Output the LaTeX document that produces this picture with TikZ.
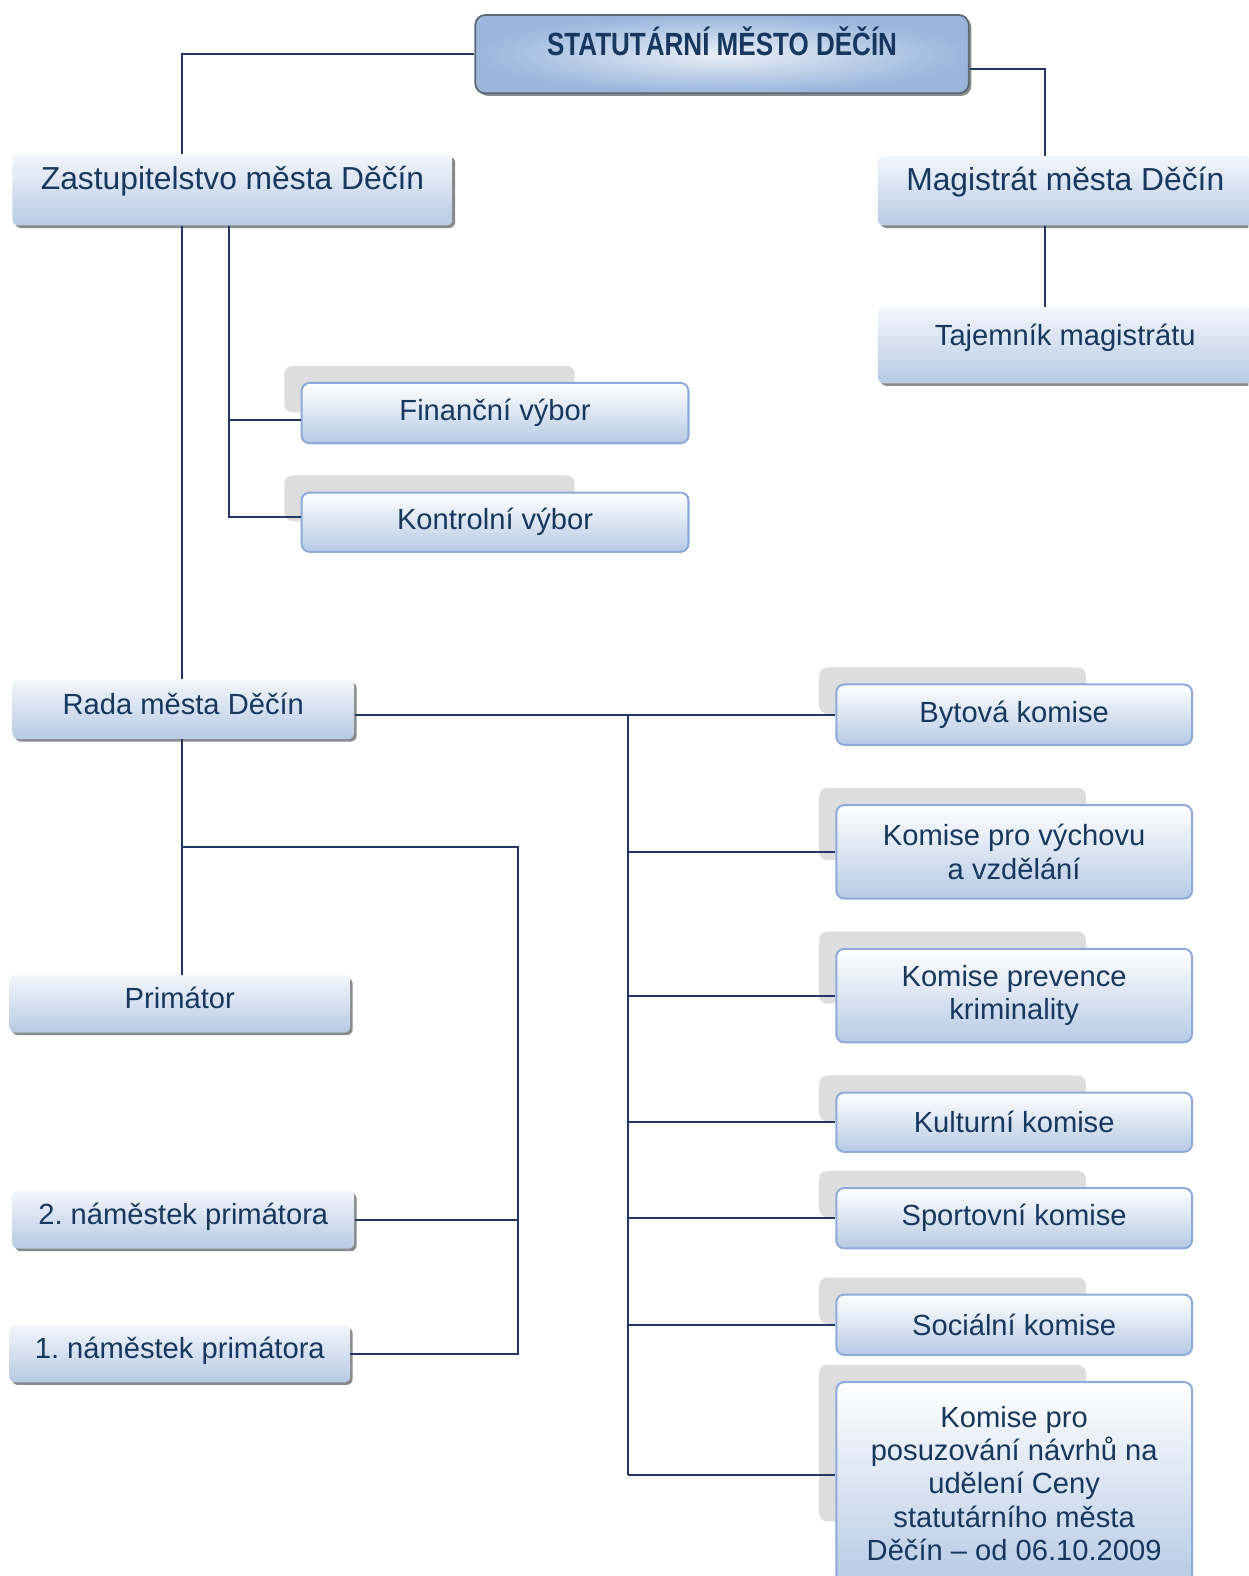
\documentclass[tikz,border=0pt]{standalone}
\usepackage{fontspec}
\setmainfont{Liberation Sans}
\usepackage{graphicx}
\usetikzlibrary{shadows}

\definecolor{textblue}{HTML}{17375E}
\definecolor{linecol}{HTML}{1F3864}
\definecolor{boxtop}{HTML}{F3F6FB}
\definecolor{boxbot}{HTML}{B6CAE4}
\definecolor{boxedge}{HTML}{8EAADB}
\definecolor{tabgray}{HTML}{DDDDDD}
\definecolor{shadowgray}{HTML}{8A8A8A}
\definecolor{topin}{HTML}{E8EEF7}
\definecolor{topout}{HTML}{9AB6DB}
\definecolor{topedge}{HTML}{5C6773}

% committee box with its grey tab: name, x, y, width, height, text
\newcommand{\komise}[6]{%
	\fill[tabgray, rounded corners=0.16cm] (#2-16,#3-16) rectangle ++(0.75*#4,0.77*#5);
	\node[komisebox, minimum width=#4*0.02cm, minimum height=#5*0.02cm] (#1) at (#2,#3) {#6};
}

\begin{document}
\begin{tikzpicture}[x=0.02cm, y=-0.02cm,
		conn/.style={draw=linecol, line width=0.04cm},
		leftbox/.style={anchor=north west, inner sep=0pt, rounded corners=0.12cm,
			top color=boxtop, bottom color=boxbot, text=textblue,
			text height=0.45cm, text depth=0.25cm,
			font=\fontsize{16.5}{19}\selectfont,
			drop shadow={shadow xshift=0.05cm, shadow yshift=-0.05cm, fill=shadowgray, opacity=1}},
		raised/.style={text depth=0.45cm},
		bigtext/.style={font=\fontsize{18}{21}\selectfont},
		komisebox/.style={anchor=north west, inner sep=0pt, align=center, rounded corners=0.16cm,
			top color=white, bottom color=boxbot, draw=boxedge, line width=0.04cm,
			text=textblue, font=\fontsize{16.5}{18.9}\selectfont},
		titlebox/.style={anchor=north west, inner sep=0pt, rounded corners=0.2cm,
			inner color=topin, outer color=topout, draw=topedge, line width=0.035cm,
			text=textblue, font=\fontsize{18.2}{21}\selectfont\bfseries,
			text height=0.45cm, text depth=0.4cm,
			drop shadow={shadow xshift=0.05cm, shadow yshift=-0.05cm, fill=shadowgray, opacity=1}}]
	\useasboundingbox (0,0) rectangle (1242,1568);
	\clip (0,0) rectangle (1242,1568);

	% top
	\node[titlebox, minimum width=491*0.02cm, minimum height=78*0.02cm] (mesto) at (472,14)
		{\scalebox{0.81}[1]{STATUTÁRNÍ MĚSTO DĚČÍN}};

	% left column
	\node[leftbox, bigtext, raised, minimum width=438*0.02cm, minimum height=71*0.02cm] (zast) at (12,153) {Zastupitelstvo města Děčín};
	\node[leftbox, minimum width=340*0.02cm, minimum height=59*0.02cm] (rada) at (12,676) {Rada města Děčín};
	\node[leftbox, minimum width=339*0.02cm, minimum height=57*0.02cm] (prim) at (9,970) {Primátor};
	\node[leftbox, minimum width=340*0.02cm, minimum height=58*0.02cm] (nam2) at (12,1184) {2.\ náměstek primátora};
	\node[leftbox, minimum width=339*0.02cm, minimum height=57*0.02cm] (nam1) at (9,1318) {1.\ náměstek primátora};

	% right column
	\node[leftbox, bigtext, raised, minimum width=373*0.02cm, minimum height=69*0.02cm] (mag) at (873,155) {Magistrát města Děčín};
	\node[leftbox, raised, minimum width=373*0.02cm, minimum height=76*0.02cm] (taj) at (873,305) {Tajemník magistrátu};

	% committees
	\komise{fin}{299}{380}{385}{60}{Finanční výbor}
	\komise{kon}{299}{489}{385}{59}{Kontrolní výbor}
	\komise{byt}{831}{680}{354}{60}{Bytová komise}
	\komise{vych}{831}{800}{354}{93}{Komise pro výchovu\\a vzdělání}
	\komise{prev}{831}{943}{354}{93}{Komise prevence\\kriminality}
	\komise{kult}{831}{1086}{354}{59}{Kulturní komise}
	\komise{sport}{831}{1181}{354}{60}{Sportovní komise}
	\komise{soc}{831}{1287}{354}{60}{Sociální komise}
	\komise{ceny}{831}{1374}{354}{202}{Komise pro\\posuzování návrhů na\\udělení Ceny\\statutárního města\\Děčín -- od 06.10.2009}

	% connectors
	\coordinate (zx) at (181,0);
	\coordinate (vx) at (228,0);
	\coordinate (mx) at (1040,0);
	\coordinate (bx) at (625,0);
	\coordinate (rb) at (181,843);
	\coordinate (nb) at (515,843);

	\draw[conn] (mesto.west) -| (zx |- zast.north);
	\draw[conn] ([yshift=-0.3cm]mesto.east) -| (mx |- mag.north);
	\draw[conn] (mx |- mag.south) -- (mx |- taj.north);
	\draw[conn] (zx |- zast.south) -- (zx |- rada.north);
	\draw[conn] (vx |- zast.south) |- ([yshift=0.1cm]kon.west);
	\draw[conn] ([yshift=-0.14cm]fin.west -| vx) -- ([yshift=-0.14cm]fin.west);
	\draw[conn] (rada.east |- byt.west) -- (byt.west);
	\draw[conn] (bx |- byt.west) -- ([yshift=0.18cm]bx |- ceny.west);
	\foreach \k in {vych, prev, kult, sport, soc} {
		\draw[conn] (bx |- \k.west) -- (\k.west);
	}
	\draw[conn] ([yshift=0.18cm]bx |- ceny.west) -- ([yshift=0.18cm]ceny.west);
	\draw[conn] (zx |- rada.south) -- (zx |- prim.north);
	\draw[conn] (rb) -- (nb) |- (nam1.east);
	\draw[conn] (nam2.east) -- (nb |- nam2.east);
\end{tikzpicture}
\end{document}
